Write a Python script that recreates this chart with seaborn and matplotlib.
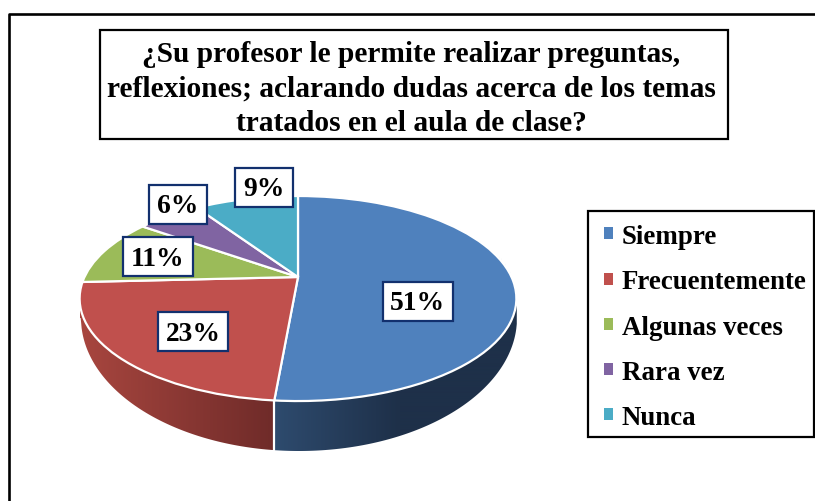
import numpy as np
import matplotlib
matplotlib.use("Agg")
import matplotlib.pyplot as plt
import matplotlib.colors as mcolors
from matplotlib.transforms import Transform
from matplotlib.patches import Rectangle, Polygon
import seaborn as sns

categories = ["Siempre", "Frecuentemente", "Algunas veces", "Rara vez", "Nunca"]
# shares estimated from the slice edges, the labels round them
shares = [51.4, 22.8, 10.6, 5.8, 9.4]
colors = ["#4f81bd", "#c0504d", "#9bbb59", "#8064a2", "#4bacc6"]
title = "¿Su profesor le permite realizar preguntas,\nreflexiones; aclarando dudas acerca de los temas\ntratados en el aula de clase?"

# label box centres in pixels
label_pos = [(417.5, 302), (193, 332.5), (158, 257.5), (178, 205), (263.5, 188)]
wall_left = ["#2e4b6e", "#a8463f"]
wall_right = ["#1e3049", "#6f2b29"]

sns.set_theme(style="white")
plt.rcParams["font.family"] = ["Liberation Serif", "DejaVu Serif"]
plt.rcParams["font.weight"] = "bold"

# perspective of the pie top, unit circle -> pixels
APEX_X, APEX_Y = 298, 278
K, A, B = 0.21, 98.0, 213.5


class Tilt(Transform):
    input_dims = output_dims = 2

    def transform_non_affine(self, xy):
        xy = np.asarray(xy, dtype=float)
        d = 1 + K * xy[:, 1]
        return np.column_stack([APEX_X + B * xy[:, 0] / d, APEX_Y - A * xy[:, 1] / d])


fig = plt.figure(figsize=(8.15, 5.02), dpi=100)
ax = fig.add_axes([0, 0, 1, 1])

wedges, _ = ax.pie(shares, colors=colors, startangle=90, counterclock=False,
                   wedgeprops=dict(edgecolor="white", linewidth=1.6))
for w in wedges:
    w.set_transform(Tilt() + ax.transData)
    w.set_zorder(3)

# side wall, only the two front slices show it
fracs = np.cumsum([0] + shares) / sum(shares)
for i in (0, 1):
    t = np.linspace(fracs[i], fracs[i + 1], 400) * 2 * np.pi
    t = t[np.cos(t) < 0.2]
    pts = Tilt().transform_non_affine(np.column_stack([np.sin(t), np.cos(t)]))
    order = np.argsort(pts[:, 0])
    xs, ys = pts[order, 0], pts[order, 1]
    grid = np.arange(xs.min(), xs.max() + 0.5, 0.5)
    top = np.interp(grid, xs, ys) - 3
    bot = 319 + 133 * np.sqrt(np.clip(1 - ((grid - 299) / 218) ** 2, 0, 1))
    if i == 0:
        seam_x, seam_top, seam_bot = xs.min(), ys[0], bot[0]
    span = 125 if i == 0 else grid[-1] - grid[0]
    f = np.clip((grid - grid[0]) / span, 0, 1)[:, None]
    c0 = np.array(mcolors.to_rgb(wall_left[i]))
    c1 = np.array(mcolors.to_rgb(wall_right[i]))
    shade = (c0 + (c1 - c0) * f)[None, :, :]
    im = ax.imshow(shade, extent=[grid[0], grid[-1], bot.max(), top.min()], aspect="auto",
                   interpolation="bilinear", zorder=1)
    poly = Polygon(np.column_stack([np.r_[grid, grid[::-1]], np.r_[top, bot[::-1]]]),
                   fc="none", ec="none", transform=ax.transData)
    ax.add_patch(poly)
    im.set_clip_path(poly)
ax.plot([seam_x, seam_x], [seam_top, seam_bot], color="white", lw=1.6, zorder=2)

ax.set_aspect("auto")
ax.set_xlim(0, 815)
ax.set_ylim(502, 0)
ax.axis("off")

for v, (x, y) in zip(shares, label_pos):
    w = 58 if round(v) < 10 else 70
    ax.add_patch(Rectangle((x - w / 2, y - 19.5), w, 39, fc="white", ec="#12306e", lw=1.6, zorder=4))
    ax.text(x, y + 2, f"{round(v)}%", ha="center", va="center", fontsize=19.8, color="black", zorder=5)

# title box and outer frame
ax.add_patch(Rectangle((100, 31), 628, 109, fc="white", ec="black", lw=1.6, zorder=4))
ax.text(411.5, 89, title, ha="center", va="center", fontsize=21.2, color="black",
        linespacing=1.38, zorder=5)
ax.plot([9, 9, 815], [502, 15, 15], color="black", lw=1.9, zorder=4)

# legend, frame drawn by hand so it keeps its size
ax.add_patch(Rectangle((588, 212), 226, 226, fc="white", ec="black", lw=1.6, zorder=4))
leg = ax.legend(wedges, categories, loc="upper left", bbox_to_anchor=(588 / 815, 1 - 213 / 502),
                frameon=False, prop=dict(family="Liberation Serif", weight="bold", size=19.4),
                labelcolor="black", handlelength=0.75, handleheight=0.3, handletextpad=0.05,
                labelspacing=0.75, borderaxespad=0, borderpad=0.45)
leg.set_zorder(5)
for h in leg.get_patches():
    h.set_edgecolor("none")
    h.set_x(h.get_x() + 3)
    h.set_width(6)

fig.savefig("out.png", dpi=100)
